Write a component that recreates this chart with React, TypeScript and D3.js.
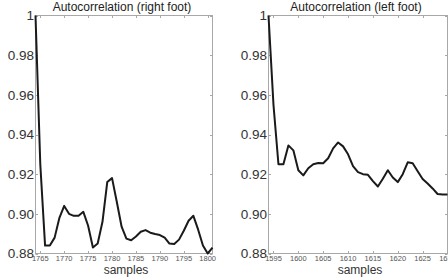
import React, { useRef, useEffect } from 'react';
import * as d3 from 'd3';

// right foot: sample index and autocorrelation value
const rightSamples = [1764, 1765, 1766, 1767, 1768, 1769, 1770, 1771, 1772, 1773, 1774, 1775, 1776, 1777, 1778, 1779, 1780, 1781, 1782, 1783, 1784, 1785, 1786, 1787, 1788, 1789, 1790, 1791, 1792, 1793, 1794, 1795, 1796, 1797, 1798, 1799, 1800, 1801];
const rightAcf = [1.0, 0.925, 0.884, 0.884, 0.888, 0.898, 0.904, 0.9, 0.899, 0.899, 0.901, 0.894, 0.883, 0.885, 0.896, 0.916, 0.918, 0.906, 0.8935, 0.8875, 0.8867, 0.8886, 0.891, 0.8918, 0.8905, 0.8898, 0.8893, 0.888, 0.885, 0.8848, 0.887, 0.8915, 0.8965, 0.899, 0.892, 0.884, 0.88, 0.883];

// left foot
const leftSamples = [1594, 1595, 1596, 1597, 1598, 1599, 1600, 1601, 1602, 1603, 1604, 1605, 1606, 1607, 1608, 1609, 1610, 1611, 1612, 1613, 1614, 1615, 1616, 1617, 1618, 1619, 1620, 1621, 1622, 1623, 1624, 1625, 1626, 1627, 1628, 1629, 1630];
const leftAcf = [1.0, 0.955, 0.925, 0.925, 0.9345, 0.932, 0.922, 0.9194, 0.923, 0.925, 0.9256, 0.9255, 0.928, 0.933, 0.936, 0.934, 0.93, 0.924, 0.921, 0.92, 0.9197, 0.9165, 0.9138, 0.9177, 0.922, 0.9183, 0.916, 0.92, 0.926, 0.9255, 0.9215, 0.9176, 0.9153, 0.9128, 0.91, 0.9097, 0.9098];

const yTicks = [0.88, 0.9, 0.92, 0.94, 0.96, 0.98, 1];
const rightXTicks = [1765, 1770, 1775, 1780, 1785, 1790, 1795, 1800];
const leftXTicks = [1595, 1600, 1605, 1610, 1615, 1620, 1625, 1630];

const FONT = '"Liberation Sans", Arial, Helvetica, sans-serif';

type Panel = {
  title: string;
  samples: number[];
  values: number[];
  xTicks: number[];
  domain: [number, number];
  range: [number, number];
};

const panels: Panel[] = [
  { title: 'Autocorrelation (right foot)', samples: rightSamples, values: rightAcf, xTicks: rightXTicks, domain: [1764, 1801], range: [35.5, 212.5] },
  { title: 'Autocorrelation (left foot)', samples: leftSamples, values: leftAcf, xTicks: leftXTicks, domain: [1594, 1630], range: [268.5, 447.5] },
];

const App = () => {
  const svgRef = useRef<SVGSVGElement>(null);

  useEffect(() => {
    const svg = d3.select(svgRef.current);
    svg.selectAll('*').remove();

    const top = 15.5;
    const bottom = 253.5;
    const y = d3.scaleLinear().domain([0.88, 1]).range([bottom, top]);
    const tickLen = 2.5;
    const boxColor = '#a8a8a8';

    panels.forEach(p => {
      const x = d3.scaleLinear().domain(p.domain).range(p.range);
      const [x0, x1] = p.range;
      const g = svg.append('g');

      // box
      g.append('rect')
        .attr('x', x0).attr('y', top)
        .attr('width', x1 - x0).attr('height', bottom - top)
        .attr('fill', 'none').attr('stroke', boxColor).attr('stroke-width', 1);

      // x ticks (bottom + top, inward)
      p.xTicks.forEach(t => {
        const xx = Math.round(x(t)) + 0.5;
        g.append('line').attr('x1', xx).attr('x2', xx).attr('y1', bottom).attr('y2', bottom - tickLen).attr('stroke', boxColor);
        g.append('line').attr('x1', xx).attr('x2', xx).attr('y1', top).attr('y2', top + tickLen).attr('stroke', boxColor);
        g.append('text')
          .attr('x', x(t)).attr('y', 261)
          .attr('text-anchor', 'middle')
          .attr('font-family', FONT).attr('font-size', 7.5)
          .attr('fill', '#555')
          .text(t);
      });

      // y ticks (left + right, inward)
      yTicks.forEach(t => {
        const yy = Math.round(y(t)) + 0.5;
        g.append('line').attr('x1', x0).attr('x2', x0 + tickLen).attr('y1', yy).attr('y2', yy).attr('stroke', boxColor);
        g.append('line').attr('x1', x1).attr('x2', x1 - tickLen).attr('y1', yy).attr('y2', yy).attr('stroke', boxColor);
        g.append('text')
          .attr('x', x0 - 1.5).attr('y', y(t))
          .attr('dy', '0.36em')
          .attr('text-anchor', 'end')
          .attr('font-family', FONT).attr('font-size', 13.5)
          .attr('fill', '#333')
          .text(t === 1 ? '1' : t.toFixed(2));
      });

      // the autocorrelation curve
      const line = d3.line<number>()
        .x((d, i) => x(p.samples[i]))
        .y(d => y(d))
        .curve(d3.curveLinear);

      g.append('path')
        .datum(p.values)
        .attr('d', line)
        .attr('fill', 'none')
        .attr('stroke', '#1a1a1a')
        .attr('stroke-width', 2)
        .attr('stroke-linejoin', 'round');

      const cx = (x0 + x1) / 2;
      g.append('text')
        .attr('x', cx - 2).attr('y', 11)
        .attr('text-anchor', 'middle')
        .attr('font-family', FONT).attr('font-size', 12)
        .attr('fill', '#222')
        .text(p.title);

      g.append('text')
        .attr('x', cx + 2).attr('y', 273.5)
        .attr('text-anchor', 'middle')
        .attr('font-family', FONT).attr('font-size', 12)
        .attr('fill', '#333')
        .text('samples');
    });
  }, []);

  return (
    <svg
      ref={svgRef}
      width={448}
      height={278}
      style={{ position: 'absolute', left: 0, top: 0, background: '#fff' }}
    ></svg>
  );
};

export default App;
